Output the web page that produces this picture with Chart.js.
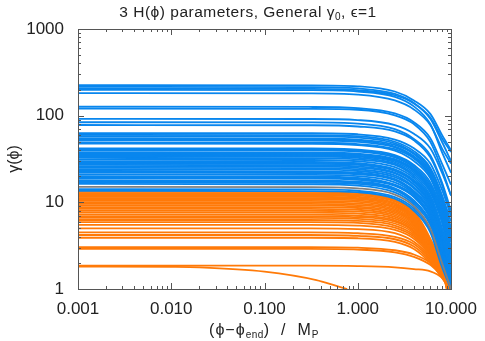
<!DOCTYPE html>
<html>
<head>
<meta charset="utf-8">
<script src="https://cdn.jsdelivr.net/npm/chart.js@4"></script>
<style>
  body { margin: 0; background: #fff; }
  #wrap { position: relative; width: 485px; height: 341px; font-family: "Liberation Sans", Arial, sans-serif; color: #222; }
  #title { position: absolute; left: 0; width: 496px; top: 3px; text-align: center; font-size: 15.5px; letter-spacing: 0.5px; line-height: 18px; white-space: nowrap; }
  #xtitle { position: absolute; left: 0; width: 528px; top: 321px; text-align: center; font-size: 16px; letter-spacing: 1px; line-height: 18px; white-space: nowrap; }
  sub { font-size: 10px; vertical-align: -3px; letter-spacing: 0.5px; }
</style>
</head>
<body>
<div id="wrap">
  <canvas id="chart" width="485" height="341"></canvas>
  <div id="title">3 H(ϕ) parameters, General γ<sub>0</sub>, ϵ=1</div>
  <div id="xtitle">(ϕ−ϕ<sub>end</sub>)&nbsp;&nbsp;/&nbsp;&nbsp;M<sub>P</sub></div>
</div>
<script>
// tick labels
xMajor = [0.001, 0.01, 0.1, 1, 10];
xLabels = ['0.001', '0.010', '0.100', '1.000', '10.000'];
yMajor = [1, 10, 100, 1000];
yLabels = ['1', '10', '100', '1000'];

// blue family, gamma at these x
blueX = [0.001, 0.3, 1, 2.5, 4, 6, 8, 10];
blueCurves = [
    [225, 224, 218, 190, 150, 105, 60, 40],
    [215, 214, 206, 178, 140, 92, 50, 30],
    [205, 204, 197, 172, 138, 95, 55, 38],
    [198, 197, 190, 165, 128, 80, 38, 22],
    [182, 181, 175, 150, 118, 78, 42, 28],
    [127, 126, 122, 106, 84, 55, 28, 16],
    [121, 120, 117, 101, 80, 50, 24, 12],
    [92, 91.5, 89, 78, 62, 42, 22, 12],
    [84, 83.5, 81, 70, 54, 35, 17, 8],
    [78, 77.5, 75, 66, 52, 33, 16, 7],
    [63, 62.7, 61, 53, 42, 28, 14, 7],
    [60, 59.7, 58, 50, 39, 25, 12, 5],
    [58, 57.7, 56, 48, 37, 24, 11, 5],
    [55, 54.7, 53, 46, 36, 23, 12, 6],
    [53.5, 53.2, 51.5, 44, 34, 22, 10, 4.5],
    [52, 51.7, 50, 43, 33, 21, 10, 4],
    [49, 48.7, 47, 41, 32, 20, 9, 4],
    [47.5, 47.2, 45.8, 39.5, 30, 19, 8.5, 3.5],
    [42, 41.8, 40.5, 35, 27, 17, 8, 3.5],
    [41, 40.8, 39.5, 34, 26, 16, 7.5, 3],
    [40, 39.8, 38.5, 33, 25, 15, 7, 2.5],
    [38, 37.8, 36.5, 31.5, 24, 15, 7, 3],
    [37, 36.8, 35.6, 30.7, 23.5, 14.5, 6.5, 2.6],
    [36, 35.8, 34.6, 30, 23, 14, 6, 2],
    [35, 34.8, 33.7, 29, 22, 13.5, 6, 2.2],
    [34, 33.8, 32.7, 28, 21, 13, 6, 2.5],
    [32.5, 32.3, 31.2, 27, 20, 12, 5, 1.8],
    [31, 30.8, 29.8, 25.5, 19, 11.5, 5, 2],
    [29.5, 29.3, 28.3, 24, 18, 11, 4.5, 1.5],
    [28.7, 28.5, 27.6, 23.5, 17.5, 10.5, 4.3, 1.4],
    [28, 27.8, 27, 23, 17, 10, 4.5, 1.8],
    [27, 26.8, 26, 22, 16, 9.5, 4, 1.3],
    [26, 25.8, 25, 21.5, 16, 9.5, 4, 1.6],
    [25, 24.8, 24, 20.5, 15, 9, 3.8, 1.2],
    [24, 23.8, 23, 19.5, 14.5, 8.5, 3.5, 1.4],
    [23, 22.8, 22, 18.5, 13.5, 8, 3.2, 1.1],
    [22.5, 22.3, 21.6, 18.3, 13.3, 7.8, 3.1, 1.3],
    [22, 21.8, 21, 18, 13, 7.5, 3, 1.2],
    [21, 20.8, 20.1, 17, 12.5, 7, 2.8, 1.0],
    [20, 19.8, 19.2, 16, 12, 7, 3, 1.3],
    [19.5, 19.3, 18.7, 15.8, 11.7, 6.7, 2.7, 1.1],
    [19, 18.8, 18.2, 15.5, 11.5, 6.5, 2.6, 1.0],
    [18, 17.8, 17.3, 14.5, 10.5, 6, 2.5, 1.1],
    [17.5, 17.3, 16.8, 14.2, 10.3, 5.9, 2.4, 1.0],
    [17, 16.8, 16.3, 13.8, 10, 5.8, 2.3, 1.0],
    [16.3, 16.1, 15.6, 13, 9.5, 5.5, 2.2, 1.0],
    [14.2, 14.1, 13.6, 11.5, 8.5, 4.8, 2, 1.0],
    [13.6, 13.5, 13.1, 11, 8, 4.5, 1.8, 1.0]
];
grayCurve = [15.1, 15, 14.5, 12.3, 9, 5, 2, 1.0];

// orange family, gamma at these x, then gamma = 1 at orangeEnd
orangeX = [0.001, 0.3, 1, 2.5, 4, 6, 8];
orangeCurves = [
    [13.2, 13.2, 12.8, 10.8, 7.9, 3.8, 1.8],
    [12.8, 12.8, 12.4, 10.5, 7.6, 3.7, 1.8],
    [12.4, 12.4, 12, 10.2, 7.4, 3.6, 1.75],
    [12, 12, 11.6, 9.8, 7.1, 3.5, 1.7],
    [11.6, 11.6, 11.2, 9.5, 6.9, 3.4, 1.7],
    [11.2, 11.2, 10.9, 9.2, 6.7, 3.3, 1.65],
    [10.8, 10.8, 10.5, 8.9, 6.5, 3.2, 1.6],
    [10.4, 10.4, 10.1, 8.6, 6.3, 3.1, 1.6],
    [10, 10, 9.7, 8.3, 6.1, 3.1, 1.6],
    [9.6, 9.6, 9.3, 8, 5.9, 3.0, 1.55],
    [9.2, 9.2, 8.9, 7.7, 5.7, 3.0, 1.55],
    [8.8, 8.8, 8.6, 7.4, 5.5, 2.9, 1.5],
    [8.4, 8.4, 8.2, 7.1, 5.3, 2.85, 1.5],
    [8, 8, 7.8, 6.8, 5.1, 2.8, 1.5],
    [7.6, 7.6, 7.4, 6.5, 4.9, 2.75, 1.5],
    [7.2, 7.2, 7.0, 6.2, 4.7, 2.7, 1.45],
    [6.9, 6.9, 6.75, 6, 4.6, 2.65, 1.45],
    [6.6, 6.6, 6.45, 5.7, 4.4, 2.6, 1.45],
    [6.25, 6.25, 6.1, 5.4, 4.2, 2.55, 1.45],
    [5.9, 5.9, 5.8, 5.1, 4.0, 2.5, 1.4],
    [5.5, 5.5, 5.4, 4.8, 3.8, 2.4, 1.4],
    [5, 5, 4.9, 4.4, 3.5, 2.3, 1.4],
    [4.5, 4.5, 4.4, 4.0, 3.3, 2.2, 1.4],
    [4.2, 4.2, 4.1, 3.75, 3.1, 2.1, 1.35],
    [3.9, 3.9, 3.85, 3.5, 2.9, 2.0, 1.35],
    [3.05, 3.05, 3.0, 2.8, 2.5, 2.0, 1.45],
    [2.9, 2.9, 2.85, 2.65, 2.35, 1.9, 1.4],
    [1.86, 1.86, 1.84, 1.78, 1.7, 1.6, 1.35]
];
orangeEnd = [9.0, 9.1, 9.0, 9.2, 9.1, 9.2, 9.3, 9.2, 9.4, 9.3, 9.4, 9.5, 9.4, 9.5,
    9.6, 9.5, 9.6, 9.6, 9.7, 9.6, 9.7, 9.7, 9.8, 9.7, 9.8, 9.6, 9.8, 9.9];

// the one orange curve that falls early
lowX = [0.001, 0.01, 0.02, 0.1, 0.36, 0.6, 0.77];
lowY = [1.81, 1.8, 1.78, 1.59, 1.27, 1.08, 1];

const blue = 'rgb(8,134,238)';
const orange = 'rgb(255,122,8)';
const gray = 'rgb(128,128,128)';

function line(points, color) {
    return {
        data: points,
        borderColor: color,
        borderWidth: 1.8,
        pointRadius: 0,
        fill: false,
        cubicInterpolationMode: 'monotone'
    };
}

datasets = [];
datasets.push(line(blueX.map((x, i) => ({x: x, y: grayCurve[i]})), gray));
for (c of blueCurves) {
    datasets.push(line(blueX.map((x, i) => ({x: x, y: c[i]})), blue));
}
for (let k = 0; k < orangeCurves.length; k++) {
    const pts = orangeX.map((x, i) => ({x: x, y: orangeCurves[k][i]}));
    pts.push({x: orangeEnd[k], y: 1});
    datasets.push(line(pts, orange));
}
datasets.push(line(lowX.map((x, i) => ({x: x, y: lowY[i]})), orange));

function tickList(majors) {
    let out = [];
    for (let i = 0; i < majors.length; i++) {
        out.push({value: majors[i], major: true});
        if (i < majors.length - 1) {
            for (let m = 2; m <= 9; m++) out.push({value: majors[i] * m, major: false});
        }
    }
    return out;
}

// IDL style box with inward ticks on all four sides
const boxTicks = {
    id: 'boxTicks',
    afterDraw(chart) {
        const ctx = chart.ctx;
        const a = chart.chartArea;
        ctx.save();
        ctx.strokeStyle = '#555';
        ctx.lineWidth = 1;
        ctx.strokeRect(Math.round(a.left) + 0.5, Math.round(a.top) + 0.5,
            Math.round(a.right - a.left), Math.round(a.bottom - a.top));
        ctx.beginPath();
        for (t of chart.scales.x.ticks) {
            const px = Math.round(chart.scales.x.getPixelForValue(t.value)) + 0.5;
            const len = t.major ? 6 : 3;
            ctx.moveTo(px, a.bottom); ctx.lineTo(px, a.bottom - len);
            ctx.moveTo(px, a.top); ctx.lineTo(px, a.top + len);
        }
        for (t of chart.scales.y.ticks) {
            const py = Math.round(chart.scales.y.getPixelForValue(t.value)) + 0.5;
            const len = t.major ? 6 : 3;
            ctx.moveTo(a.left, py); ctx.lineTo(a.left + len, py);
            ctx.moveTo(a.right, py); ctx.lineTo(a.right - len, py);
        }
        ctx.stroke();
        ctx.restore();
    }
};

const ctx = document.getElementById('chart').getContext('2d');
const gammaChart = new Chart(ctx, {
    type: 'line',
    data: { datasets: datasets },
    plugins: [boxTicks],
    options: {
        responsive: false,
        animation: false,
        devicePixelRatio: 1,
        events: [],
        layout: { padding: { top: 29, right: 34, left: 0, bottom: 0 } },
        plugins: { legend: { display: false }, tooltip: { enabled: false } },
        scales: {
            x: {
                type: 'logarithmic',
                min: 0.001,
                max: 10,
                grid: { display: false },
                border: { display: false },
                afterBuildTicks: (scale) => { scale.ticks = tickList(xMajor); },
                afterFit: (scale) => { scale.height = 52; },
                ticks: {
                    autoSkip: false,
                    maxRotation: 0,
                    padding: 2,
                    color: '#222',
                    font: { family: 'Liberation Sans', size: 17 },
                    callback: (v) => { const i = xMajor.indexOf(v); return i >= 0 ? xLabels[i] : ''; }
                }
            },
            y: {
                type: 'logarithmic',
                min: 1,
                max: 1000,
                grid: { display: false },
                border: { display: false },
                afterBuildTicks: (scale) => { scale.ticks = tickList(yMajor); },
                afterFit: (scale) => { scale.width = 78; },
                title: {
                    display: true,
                    text: 'γ(ϕ)',
                    color: '#222',
                    padding: { top: 5, bottom: 0 },
                    font: { family: 'Liberation Sans', size: 16 }
                },
                ticks: {
                    autoSkip: false,
                    padding: 6,
                    color: '#222',
                    font: { family: 'Liberation Sans', size: 17 },
                    callback: (v) => { const i = yMajor.indexOf(v); return i >= 0 ? yLabels[i] : ''; }
                }
            }
        }
    }
});
</script>
</body>
</html>
